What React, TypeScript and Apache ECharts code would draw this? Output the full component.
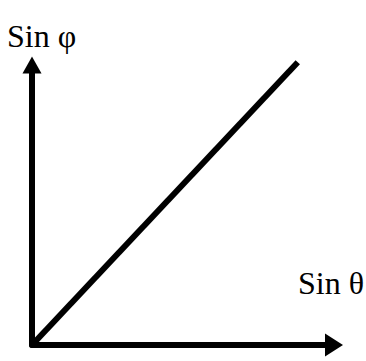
import React, { useEffect, useRef } from "react";
import * as echarts from "echarts";

const lineX = [0, 0.88];
const lineY = [0, 1.01];
const xLabel = "Sin θ";
const yLabel = "Sin φ";

export default function App() {
  const ref = useRef<HTMLDivElement>(null);
  useEffect(() => {
    if (!ref.current) return;
    const chart = echarts.init(ref.current, null, { renderer: "svg" });
    const font = "'Liberation Serif', 'Times New Roman', serif";
    chart.setOption({
      animation: false,
      backgroundColor: "#ffffff",
      grid: { left: 32, right: 32, top: 65, bottom: 16 },
      xAxis: {
        type: "value",
        min: 0,
        max: 1,
        axisLine: {
          show: true,
          onZero: false,
          symbol: ["none", "triangle"],
          symbolSize: [23, 18],
          lineStyle: { color: "#000", width: 6 },
        },
        axisTick: { show: false },
        axisLabel: { show: false },
        splitLine: { show: false },
      },
      yAxis: {
        type: "value",
        min: 0,
        max: 1,
        axisLine: {
          show: true,
          onZero: false,
          symbol: ["none", "triangle"],
          symbolSize: [19, 17],
          lineStyle: { color: "#000", width: 6 },
        },
        axisTick: { show: false },
        axisLabel: { show: false },
        splitLine: { show: false },
      },
      series: [
        {
          type: "line",
          data: lineX.map((x, i) => [x, lineY[i]]),
          showSymbol: false,
          symbol: "none",
          lineStyle: { color: "#000", width: 6, cap: "butt" },
          clip: false,
        },
      ],
      graphic: [
        {
          type: "text",
          x: 7,
          y: 36,
          style: { text: yLabel, font: `32px ${font}`, fill: "#000", verticalAlign: "middle" },
        },
        {
          type: "text",
          x: 298,
          y: 283,
          style: { text: xLabel, font: `32px ${font}`, fill: "#000", verticalAlign: "middle" },
        },
      ],
    });
    return () => chart.dispose();
  }, []);
  return (
    <div
      ref={ref}
      style={{ position: "fixed", left: 0, top: 0, width: 366, height: 361, background: "#fff" }}
    />
  );
}
